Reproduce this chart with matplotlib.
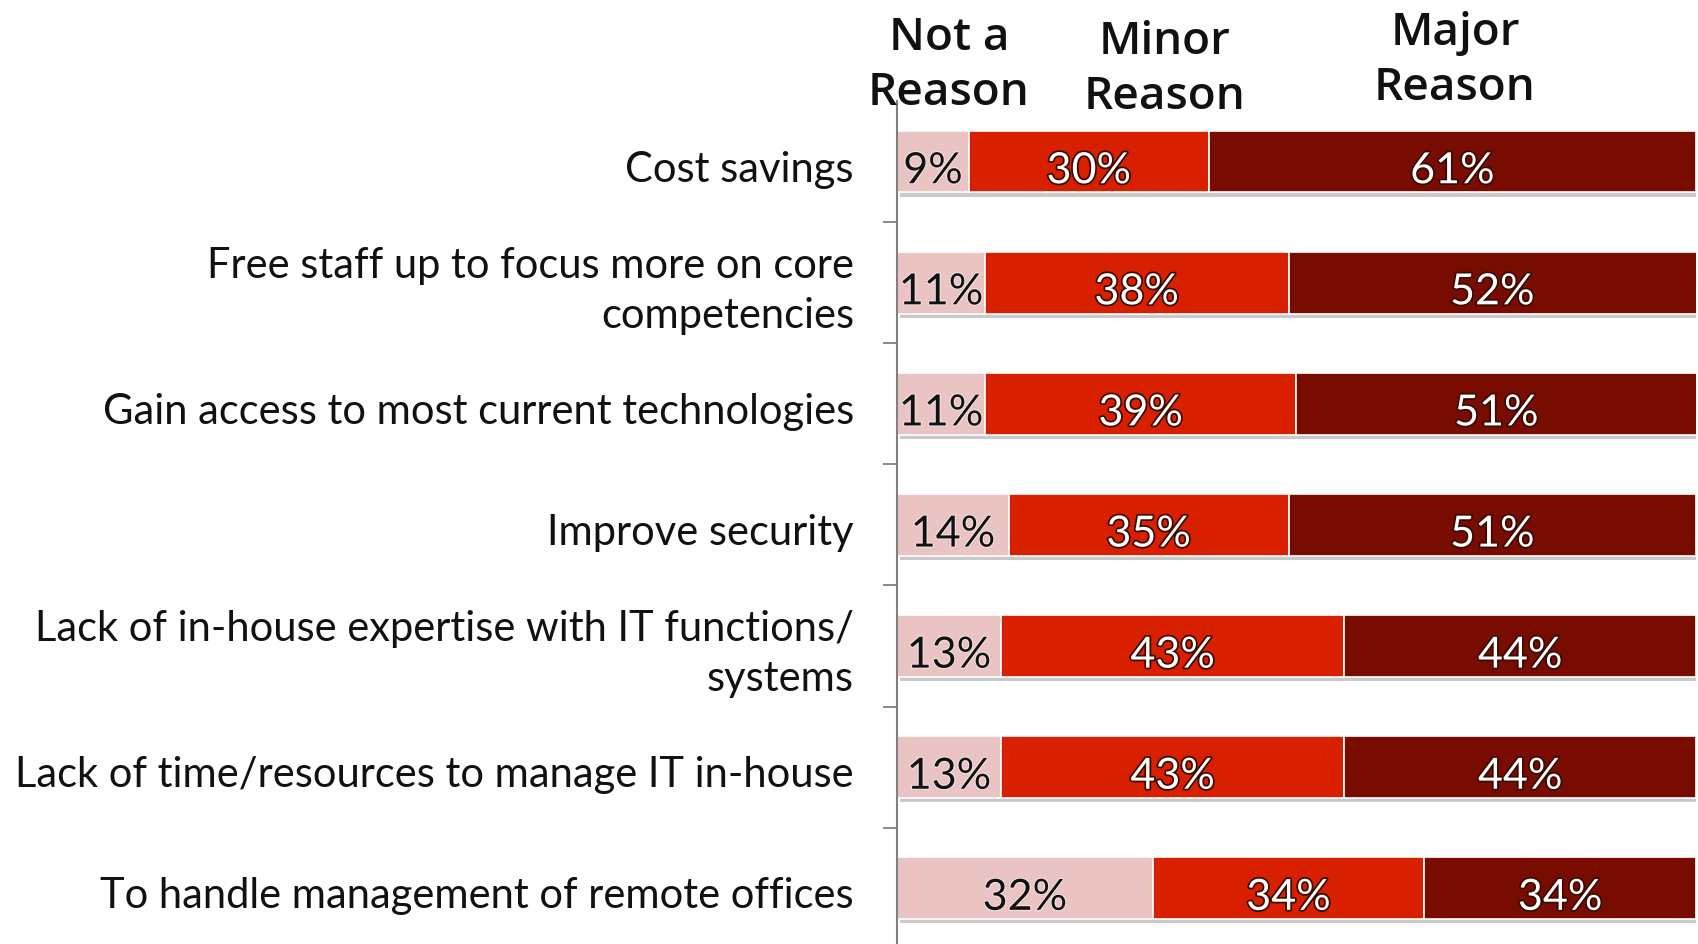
import matplotlib
matplotlib.use("Agg")
import matplotlib.pyplot as plt
import matplotlib.patheffects as pe
from matplotlib.transforms import ScaledTranslation, blended_transform_factory
import numpy as np

categories = [
    "Cost savings",
    "Free staff up to focus more on core\ncompetencies",
    "Gain access to most current technologies",
    "Improve security",
    "Lack of in-house expertise with IT functions/\nsystems",
    "Lack of time/resources to manage IT in-house",
    "To handle management of remote offices",
]
not_a_reason = [9, 11, 11, 14, 13, 13, 32]
minor_reason = [30, 38, 39, 35, 43, 43, 34]
major_reason = [61, 52, 51, 51, 44, 44, 34]
series_names = ["Not a\nReason", "Minor\nReason", "Major\nReason"]
colors = ["#EAC3C3", "#D81F00", "#790C00"]
text_colors = ["#111111", "white", "white"]

W, H, DPI = 1699, 945, 100
fig = plt.figure(figsize=(W / DPI, H / DPI), dpi=DPI)
fig.patch.set_facecolor("white")

ax_left = 897 / W
ax_right = 1696 / W
ax_top = 1 - 102 / H
ax_h = 7 * 121.1 / H
ax = fig.add_axes([ax_left, ax_top - ax_h, ax_right - ax_left, ax_h])

y = np.arange(len(categories))
series = [not_a_reason, minor_reason, major_reason]
left = np.zeros(len(categories))
shadow = [pe.SimplePatchShadow(offset=(2, -3), shadow_rgbFace="#888888", alpha=0.45), pe.Normal()]
for vals, col, tcol in zip(series, colors, text_colors):
    vals = np.array(vals, dtype=float)
    bars = ax.barh(y, vals, left=left, height=0.51, color=col, edgecolor="white",
                   linewidth=1.2, zorder=2)
    for b in bars:
        b.set_path_effects(shadow)
    for yi, v, l in zip(y, vals, left):
        cx = l + v / 2
        if tcol == "white":
            effects = [pe.withStroke(linewidth=2.5, foreground="#3a0a00")]
        else:
            effects = [pe.withStroke(linewidth=1.5, foreground="#f6e4e4")]
        ax.text(min(cx, (l + 100) / 2), yi + 0.08, f"{int(v)}%", ha="center", va="center",
                color=tcol, fontsize=31, family="Lato", zorder=3, path_effects=effects)
    left = left + vals

ax.set_xlim(0, 100)
ax.set_ylim(len(categories) - 0.5, -0.5)
ax.set_xticks([])
ax.set_yticks(y)
ax.set_yticklabels([])
ax.tick_params(axis="y", which="major", length=0)
ax.set_yticks(np.arange(0.5, len(categories) - 0.5, 1), minor=True)
ax.tick_params(axis="y", which="minor", length=10, width=1.3, color="#808080", direction="out")

label_tr = blended_transform_factory(ax.transAxes, ax.transData) + \
    ScaledTranslation(-43 / DPI, -7 / DPI, fig.dpi_scale_trans)
for yi, cat in zip(y, categories):
    ax.text(0, yi, cat, transform=label_tr, ha="right", va="center", fontsize=30,
            family="Lato", color="#111111", linespacing=1.38, multialignment="right",
            clip_on=False)

for s in ["top", "right", "bottom"]:
    ax.spines[s].set_visible(False)
ax.spines["left"].set_color("#808080")
ax.spines["left"].set_linewidth(1.5)

header_x = [949, 1165, 1455]
header_y = [66, 70, 61]
for name, hx, hy in zip(series_names, header_x, header_y):
    fig.text(hx / W, 1 - hy / H, name, ha="center", va="center", fontsize=33,
             family="Open Sans", fontweight="semibold", color="#111111", linespacing=1.32)

fig.savefig("out.png", dpi=DPI)
